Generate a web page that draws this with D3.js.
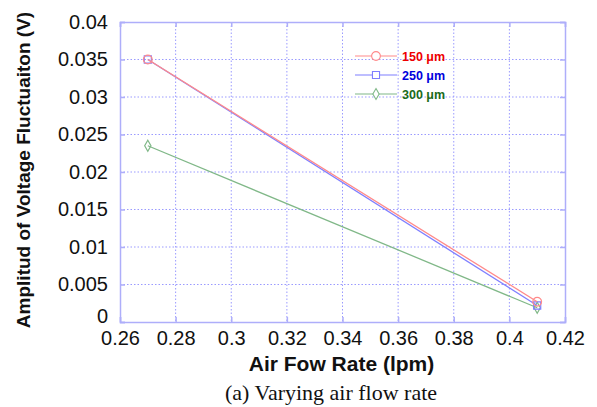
<!DOCTYPE html>
<html>
<head>
<meta charset="utf-8">
<script src="https://cdn.jsdelivr.net/npm/d3@7"></script>
<style>
  body { margin: 0; background: #fff; }
  svg text { font-family: "Liberation Sans", Arial, sans-serif; }
</style>
</head>
<body>
<div id="chart"></div>
<script>
var flowRate = [0.27, 0.41];
var amp150 = [0.0350, 0.0027];
var amp250 = [0.0350, 0.0022];
var amp300 = [0.0235, 0.0019];
var xTicks = [0.26, 0.28, 0.3, 0.32, 0.34, 0.36, 0.38, 0.4, 0.42];
var yTicks = [0, 0.005, 0.01, 0.015, 0.02, 0.025, 0.03, 0.035, 0.04];
var seriesNames = ["150 \u03bcm", "250 \u03bcm", "300 \u03bcm"];

var series = [
  {name: seriesNames[0], vals: amp150, line: "#ff8a8a", text: "#ee0000", shape: "circle"},
  {name: seriesNames[1], vals: amp250, line: "#7f7fff", text: "#0000dd", shape: "square"},
  {name: seriesNames[2], vals: amp300, line: "#80b888", text: "#1a6b1a", shape: "diamond"}
];

var margin = {top: 22, right: 32, bottom: 85, left: 120},
    width = 597 - margin.left - margin.right,
    height = 407 - margin.top - margin.bottom;

var svg = d3.select("#chart").append("svg")
    .attr("width", 597)
    .attr("height", 407);

var g = svg.append("g")
    .attr("transform", "translate(" + margin.left + "," + margin.top + ")");

var x = d3.scaleLinear().domain([0.26, 0.42]).range([0, width]);
var y = d3.scaleLinear().domain([0, 0.04]).range([height, 0]);

var gridColor = "#9a9aff";

// grid
g.selectAll(".vgrid")
    .data(xTicks.slice(1, -1)).enter()
    .append("line")
    .attr("x1", function(d) { return x(d) }).attr("x2", function(d) { return x(d) })
    .attr("y1", 0).attr("y2", height)
    .style("stroke", gridColor).style("stroke-width", 1)
    .style("stroke-dasharray", "1.5,2");

g.selectAll(".hgrid")
    .data(yTicks.slice(1, -1)).enter()
    .append("line")
    .attr("x1", 0).attr("x2", width)
    .attr("y1", function(d) { return y(d) }).attr("y2", function(d) { return y(d) })
    .style("stroke", gridColor).style("stroke-width", 1)
    .style("stroke-dasharray", "1.5,2");

// axes (ticks pointing inward)
var xAxis = g.append("g").attr("transform", "translate(0," + height + ")")
    .call(d3.axisBottom(x).tickValues(xTicks).tickSize(-5).tickPadding(14)
          .tickFormat(function(d) { return d3.format("")(+d.toFixed(2)) }));
var yAxis = g.append("g")
    .call(d3.axisLeft(y).tickValues(yTicks).tickSize(-5).tickPadding(12)
          .tickFormat(function(d) { return d3.format("")(+d.toFixed(3)) }));
g.append("g").attr("transform", "translate(0,0)")
    .call(d3.axisTop(x).tickValues(xTicks).tickSize(-5).tickFormat(""));
g.append("g").attr("transform", "translate(" + width + ",0)")
    .call(d3.axisRight(y).tickValues(yTicks).tickSize(-5).tickFormat(""));

g.selectAll(".domain, .tick line").style("stroke", "#aeaefa").style("stroke-width", 1.5);
g.selectAll(".tick text").style("font-size", "20px").style("fill", "#111");
yAxis.selectAll(".tick text").filter(function(d) { return d === 0 }).attr("dy", "0.0em");
xAxis.selectAll(".tick text").attr("dy", "0.45em");

// lines
var line = d3.line()
    .x(function(d, i) { return x(flowRate[i]) })
    .y(function(d) { return y(d) });

var symbolFor = function(shape) {
  if (shape == "circle") return d3.symbol().type(d3.symbolCircle).size(60)();
  if (shape == "square") return d3.symbol().type(d3.symbolSquare).size(50)();
  return d3.symbol().type(d3.symbolDiamond).size(34)();
};

series.slice().reverse().forEach(function(s) {
  g.append("path")
      .datum(s.vals)
      .attr("d", line)
      .attr("fill", "none")
      .style("stroke", s.line)
      .style("stroke-width", 1.3);
  g.selectAll(null)
      .data(s.vals).enter()
      .append("path")
      .attr("transform", function(d, i) { return "translate(" + x(flowRate[i]) + "," + y(d) + ")" })
      .attr("d", symbolFor(s.shape))
      .attr("fill", "none")
      .style("stroke", s.line)
      .style("stroke-width", 1.2);
});

// legend
var legend = svg.append("g").attr("transform", "translate(355,56)");
series.forEach(function(s, i) {
  var row = legend.append("g").attr("transform", "translate(0," + (i * 19) + ")");
  row.append("line").attr("x1", 0).attr("x2", 42).attr("y1", 0).attr("y2", 0)
      .style("stroke", s.line).style("stroke-width", 1.2);
  row.append("path").attr("transform", "translate(21,0)")
      .attr("d", symbolFor(s.shape)).attr("fill", "#fff")
      .style("stroke", s.line).style("stroke-width", 1.1);
  row.append("text").attr("x", 47).attr("y", 0).attr("dy", "0.36em")
      .style("font-size", "12.5px").style("font-weight", "bold")
      .style("fill", s.text).text(s.name);
});

// titles
svg.append("text")
    .attr("text-anchor", "middle")
    .attr("transform", "translate(" + (margin.left + width / 2 - 1) + ",371)")
    .style("font-size", "21px").style("font-weight", "bold").style("fill", "#111")
    .text("Air Fow Rate (lpm)");

svg.append("text")
    .attr("text-anchor", "middle")
    .attr("transform", "translate(30,170) rotate(-90)")
    .style("font-size", "19px").style("font-weight", "bold").style("fill", "#111")
    .text("Amplitud of Voltage Fluctuaiton (V)");

svg.append("text")
    .attr("text-anchor", "middle")
    .attr("transform", "translate(331,400)")
    .style("font-family", "'Liberation Serif', 'Times New Roman', serif")
    .style("font-size", "22px").style("fill", "#111")
    .text("(a) Varying air flow rate");
</script>
</body>
</html>
